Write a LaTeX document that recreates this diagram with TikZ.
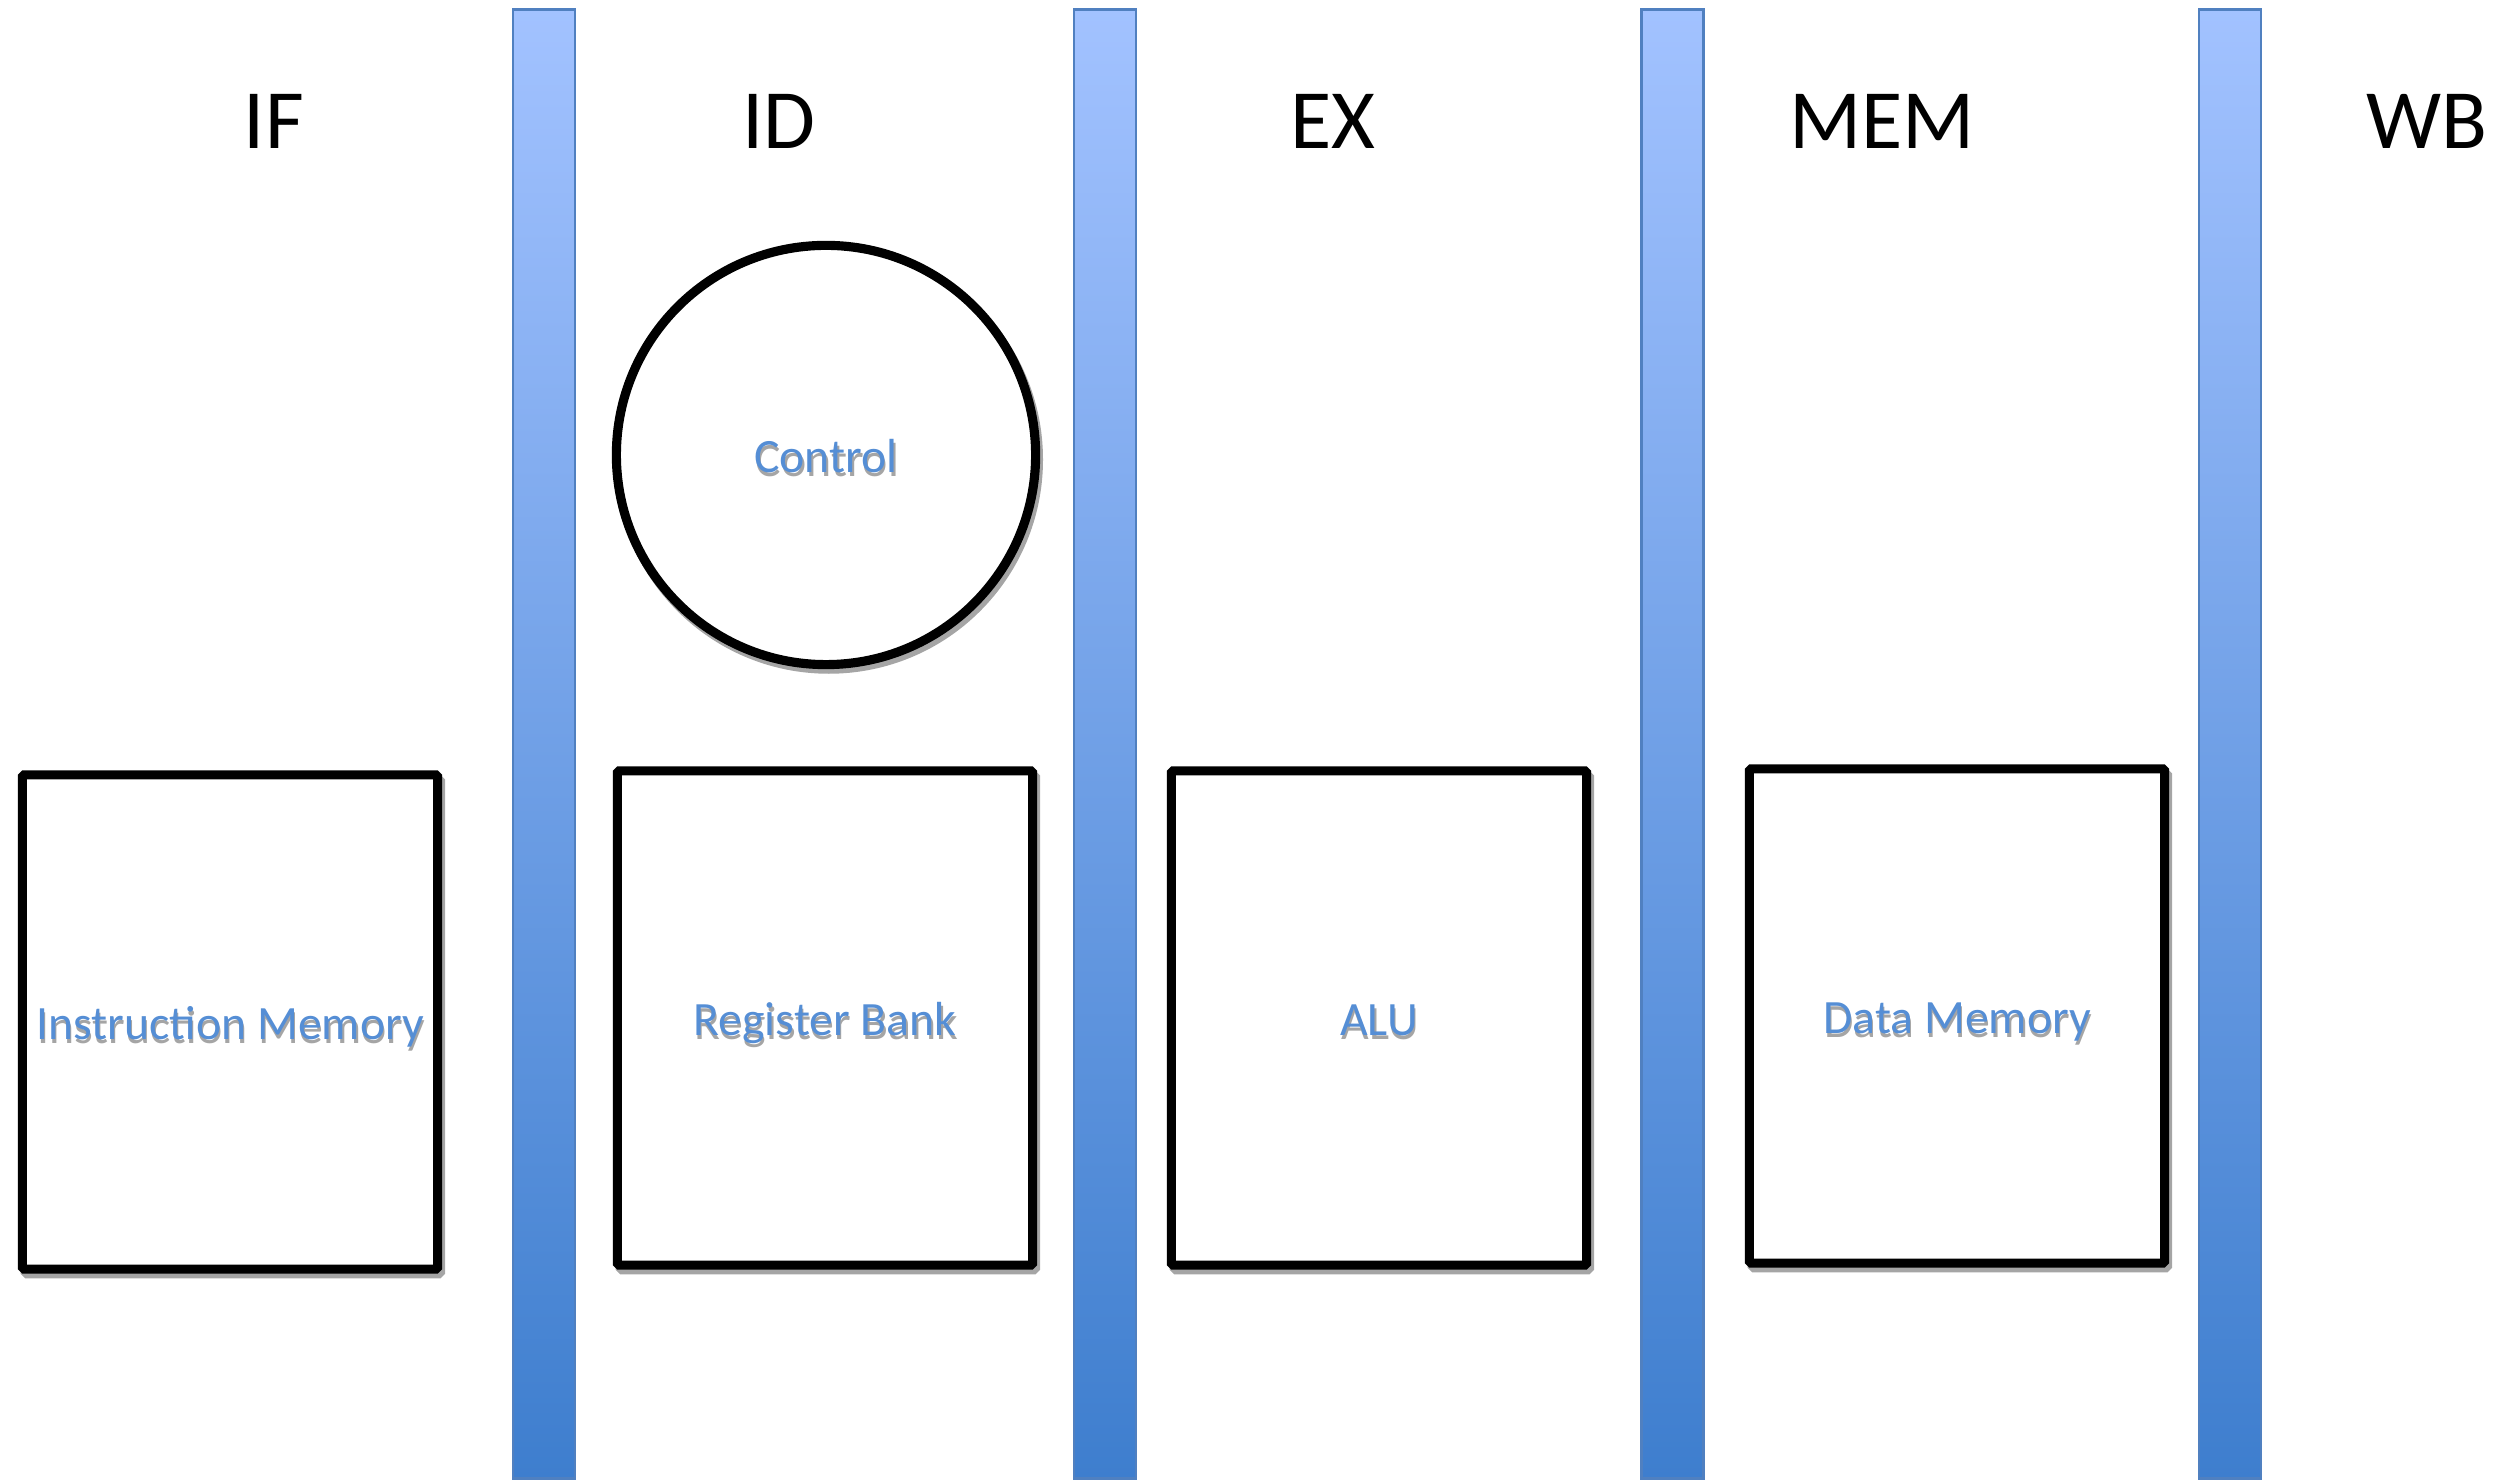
\documentclass[tikz,border=0pt]{standalone}
\usepackage{fontspec}
\setmainfont{Carlito}
\usetikzlibrary{shadows}

\definecolor{unitblue}{RGB}{85,142,213}
\definecolor{txtshadow}{RGB}{165,165,165}
\definecolor{latchtop}{RGB}{162,194,255}
\definecolor{latchbot}{RGB}{62,126,206}
\definecolor{latchline}{RGB}{80,128,192}

\newcommand\shadowtext[1]{\raisebox{-5pt}[0pt][0pt]{\makebox[0pt][l]{\kern0.4pt\raisebox{-1pt}{\color{txtshadow}#1}}#1}}

\begin{document}
\begin{tikzpicture}[
    x=0.01cm, y=-0.01cm,
    stage/.style={font=\fontsize{24}{28}\selectfont, text=black},
    latch/.style={draw=latchline, line width=0.8pt, top color=latchtop, bottom color=latchbot, minimum width=0.62cm, minimum height=14.68cm, inner sep=0pt},
    unit/.style={draw=black, line width=2.6pt, fill=white, rounded corners=0.5pt, minimum width=4.15cm, minimum height=4.94cm, inner sep=0pt,
      font=\fontsize{13.6}{16}\selectfont, text=unitblue,
      drop shadow={shadow xshift=0.8pt, shadow yshift=-1.3pt, fill=none, draw=txtshadow, opacity=1, line width=2.6pt}},
    ctrl/.style={unit, circle, minimum size=4.19cm}
  ]
    \useasboundingbox (0,0) rectangle (2520,1480);
    % pipeline registers
    \foreach \x [count=\i] in {544,1105,1672.5,2230}
      \node[latch] (latch\i) at (\x,744) {};
    % stage names
    \node[stage] (if) at (274,121) {IF};
    \node[stage] (id) at (779,121) {ID};
    \node[stage] (ex) at (1333,121) {EX};
    \node[stage] (mem) at (1882,121) {MEM};
    \node[stage] (wb) at (2427,121) {WB};
    % units
    \node[ctrl] (control) at (826,455) {\shadowtext{Control}};
    \node[unit] (imem) at (230,1022) {\shadowtext{Instruction Memory}};
    \node[unit] (regs) at (825,1018) {\shadowtext{Register Bank}};
    \node[unit] (alu) at (1379,1018) {\shadowtext{ALU}};
    \node[unit] (dmem) at (1957,1016) {\shadowtext{Data Memory}};
  \end{tikzpicture}
\end{document}
